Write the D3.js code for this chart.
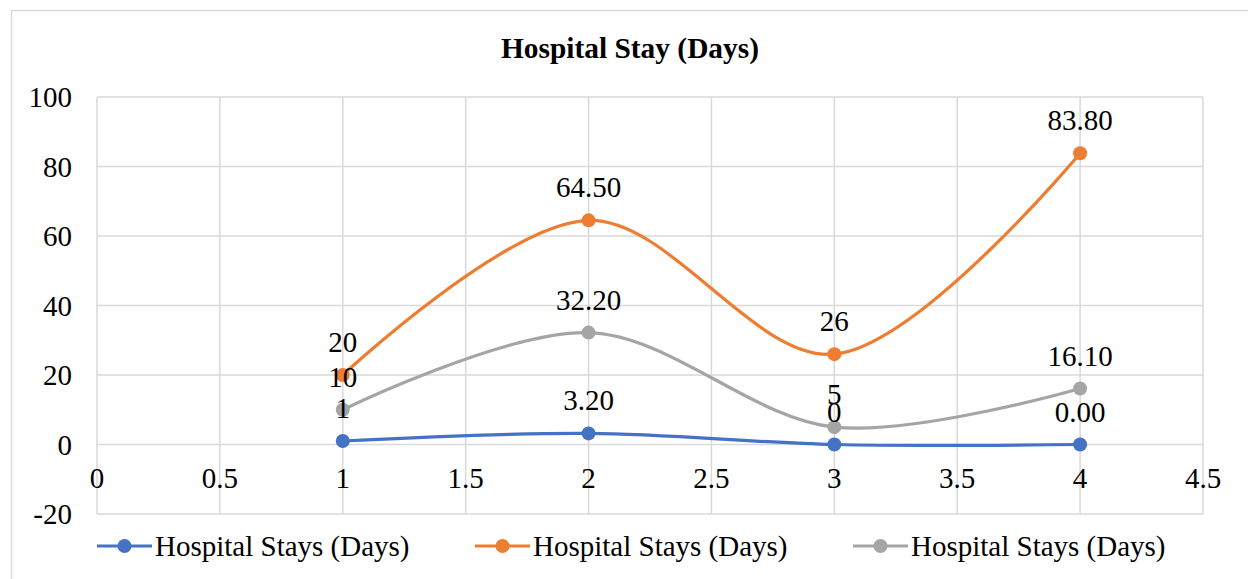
<!DOCTYPE html>
<html>
<head>
<meta charset="utf-8">
<script src="https://cdn.jsdelivr.net/npm/d3@7"></script>
<style>
  html, body { margin: 0; padding: 0; background: #fff; overflow: hidden; }
  svg { display: block; }
</style>
</head>
<body>
<svg id="chart" width="1248" height="579"></svg>
<script>
const title = "Hospital Stay (Days)";
const xValues = [1, 2, 3, 4];
const seriesNames = ["Hospital Stays (Days)", "Hospital Stays (Days)", "Hospital Stays (Days)"];
const seriesColors = ["#4472C4", "#ED7D31", "#A5A5A5"];
const blueValues = [1, 3.2, 0, 0];
const orangeValues = [20, 64.5, 26, 83.8];
const greyValues = [10, 32.2, 5, 16.1];
const blueLabels = ["1", "3.20", "0", "0.00"];
const orangeLabels = ["20", "64.50", "26", "83.80"];
const greyLabels = ["10", "32.20", "5", "16.10"];
const xTicks = [0, 0.5, 1, 1.5, 2, 2.5, 3, 3.5, 4, 4.5];
const yTicks = [-20, 0, 20, 40, 60, 80, 100];

const series = [
  { name: seriesNames[0], color: seriesColors[0], values: blueValues, labels: blueLabels },
  { name: seriesNames[1], color: seriesColors[1], values: orangeValues, labels: orangeLabels },
  { name: seriesNames[2], color: seriesColors[2], values: greyValues, labels: greyLabels }
];

const FONT = "'Liberation Serif', 'Times New Roman', 'DejaVu Serif', serif";
const svg = d3.select("#chart").attr("font-family", FONT);
const plot = { left: 97, right: 1203, top: 97, bottom: 514 };
const FS = 29;
const grid = "#d9d9d9";

// outer chart border
svg.append("rect").attr("x", 11.5).attr("y", 10.5).attr("width", 1260).attr("height", 620)
  .attr("fill", "#fff").attr("stroke", grid).attr("stroke-width", 1.5);

const x = d3.scaleLinear().domain([0, 4.5]).range([plot.left, plot.right]);
const y = d3.scaleLinear().domain([-20, 100]).range([plot.bottom, plot.top]);

// gridlines
const gx = svg.append("g");
gx.selectAll("line.v").data(xTicks).join("line")
  .attr("x1", d => x(d)).attr("x2", d => x(d))
  .attr("y1", plot.top).attr("y2", plot.bottom)
  .attr("stroke", grid).attr("stroke-width", 1.5);
gx.selectAll("line.h").data(yTicks).join("line")
  .attr("x1", plot.left).attr("x2", plot.right)
  .attr("y1", d => y(d)).attr("y2", d => y(d))
  .attr("stroke", grid).attr("stroke-width", 1.5);

// y tick labels
svg.append("g").selectAll("text").data(yTicks).join("text")
  .attr("x", 72).attr("y", d => y(d) + 10)
  .attr("text-anchor", "end").attr("font-size", FS)
  .attr("font-family", FONT).attr("fill", "#000")
  .text(d => String(d));

// x tick labels (below the zero line)
svg.append("g").selectAll("text").data(xTicks).join("text")
  .attr("x", d => x(d)).attr("y", y(0) + 43)
  .attr("text-anchor", "middle").attr("font-size", FS)
  .attr("font-family", FONT).attr("fill", "#000")
  .text(d => String(d));

// title
svg.append("text").attr("x", 630).attr("y", 58)
  .attr("text-anchor", "middle").attr("font-size", 29.4).attr("font-weight", "bold")
  .attr("font-family", FONT).attr("fill", "#000")
  .text(title);

// lines
const line = d3.line()
  .x((d, i) => x(xValues[i]))
  .y(d => y(d))
  .curve(d3.curveCatmullRom.alpha(0.5));

series.forEach(s => {
  const g = svg.append("g");
  g.append("path").datum(s.values)
    .attr("d", line).attr("fill", "none")
    .attr("stroke", s.color).attr("stroke-width", 3.2)
    .attr("stroke-linecap", "round");
  g.selectAll("circle").data(s.values).join("circle")
    .attr("cx", (d, i) => x(xValues[i])).attr("cy", d => y(d))
    .attr("r", 7).attr("fill", s.color);
});

// data labels (drawn after all lines)
series.forEach(s => {
  svg.append("g").selectAll("text").data(s.values).join("text")
    .attr("x", (d, i) => x(xValues[i])).attr("y", d => y(d) - 23)
    .attr("text-anchor", "middle").attr("font-size", FS)
    .attr("font-family", FONT).attr("fill", "#000")
    .text((d, i) => s.labels[i]);
});

// legend
const legendX = [97, 475, 853];
const legendY = 546;
series.forEach((s, i) => {
  const g = svg.append("g").attr("transform", `translate(${legendX[i]},${legendY})`);
  g.append("line").attr("x1", 0).attr("x2", 55).attr("y1", 0).attr("y2", 0)
    .attr("stroke", s.color).attr("stroke-width", 3.2);
  g.append("circle").attr("cx", 27.5).attr("cy", 0).attr("r", 7).attr("fill", s.color);
  g.append("text").attr("x", 58).attr("y", 10).attr("font-size", FS)
    .attr("font-family", FONT).attr("fill", "#000").text(s.name);
});
</script>
</body>
</html>
